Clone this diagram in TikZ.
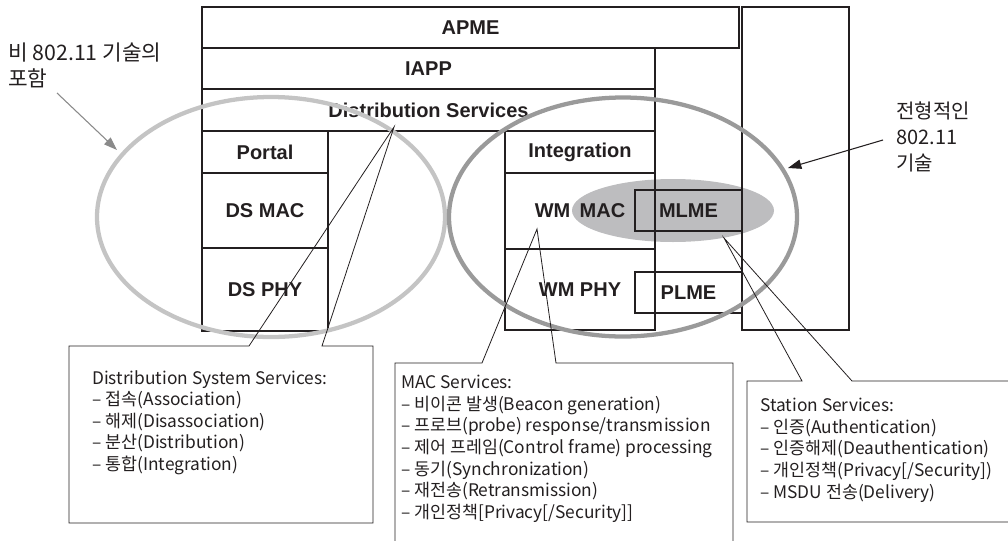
\documentclass[tikz,border=0pt]{standalone}
\usepackage{fontspec}
\setmainfont{Liberation Sans}
\newfontfamily\kr{Noto Sans CJK KR}
\usetikzlibrary{arrows.meta}
\definecolor{lgray}{HTML}{C4C4C4}
\definecolor{dgray}{HTML}{9A9A9A}
\definecolor{fgray}{HTML}{BDBDBF}
\definecolor{agray}{HTML}{8A8A8A}
\definecolor{ink}{HTML}{231F20}
\begin{document}
\begin{tikzpicture}[x=0.75pt,y=-0.75pt,
  blk/.style={draw=ink, line width=0.8pt, inner sep=0pt, text=ink,
    font=\fontsize{15}{18}\selectfont\bfseries},
  ring/.style={line width=3.2pt},
  callout/.style={draw=ink, line width=0.6pt},
  ctext/.style={font=\kr\fontsize{13}{16.2}\selectfont, align=left, anchor=north west, inner sep=0pt, text=ink},
  note/.style={font=\kr\fontsize{16}{19}\selectfont, align=left, anchor=north west, inner sep=0pt, text=ink}]
\useasboundingbox (0,0) rectangle (1008,540);

% grey MLME ellipse
\fill[fgray] (673,210.5) ellipse [x radius=101, y radius=31.5];

% stack boxes
\node[blk, minimum width=402.75pt, minimum height=30.75pt] (apme) at (470.5,27.5) {APME};
\node[blk, minimum width=339.75pt, minimum height=30.75pt] (iapp) at (428.5,68.5) {IAPP};
\node[blk, minimum width=339.75pt, minimum height=31.5pt] (dserv) at (428.5,110) {Distribution Services};
\node[blk, minimum width=94.5pt, minimum height=31.5pt] (portal) at (265,152) {Portal};
\node[blk, minimum width=94.5pt, minimum height=56.25pt] (dsmac) at (265,210.5) {DS MAC};
\node[blk, minimum width=94.5pt, minimum height=62.25pt] (dsphy) at (265,289.5) {DS PHY};
\node[blk, minimum width=112.5pt, minimum height=31.5pt] (integ) at (580,152) {Integration};
\node[blk, minimum width=112.5pt, minimum height=57pt] (wmmac) at (580,211) {WM\hspace{7pt}MAC};
\node[blk, minimum width=112.5pt, minimum height=60.75pt] (wmphy) at (580,289.5) {WM PHY};
\node[blk, minimum width=80.25pt, minimum height=30.75pt] (mlme) at (688.5,210.5) {MLME};
\node[blk, minimum width=80.25pt, minimum height=30.75pt] (plme) at (688.5,292.5) {PLME};
\node[blk, minimum width=80.25pt, minimum height=242.25pt] (tall) at (795.5,168.5) {};

% big rings
\draw[ring, lgray] (271,217) ellipse [x radius=174, y radius=120];
\draw[ring, dgray] (623,217) ellipse [x radius=174, y radius=119.5];

% labels with arrows
\node[note] (nonstd) at (8,43) {비 802.11 기술의\\포함};
\coordinate (ga1) at (57,93);
\coordinate (ga2) at (117,150);
\draw[agray, line width=0.8pt, -{Triangle[length=10pt,width=7pt]}] (ga1) -- (ga2);

\node[note, font=\kr\fontsize{15}{19.5}\selectfont] (typ) at (896,102) {전형적인\\802.11\\기술};
\coordinate (ba1) at (883,140);
\coordinate (ba2) at (788,168);
\draw[ink, line width=0.8pt, -{Triangle[length=10pt,width=7pt]}] (ba1) -- (ba2);

% callout: distribution system services
\coordinate (dsA) at (394,127);
\coordinate (dsL) at (249,346);
\coordinate (dsR) at (322,346);
\draw[callout] (dsR) -- (dsA) -- (dsL) -- (69,346) -- (69,523) -- (373,523) -- (373,346) -- cycle;
\node[ctext] (dstext) at (92,370) {Distribution System Services:\\– 접속(Association)\\– 해제(Disassociation)\\– 분산(Distribution)\\– 통합(Integration)};

% callout: MAC services
\coordinate (macA) at (537,229);
\coordinate (macL) at (482,363);
\coordinate (macR) at (556,363);
\draw[callout] (macR) -- (macA) -- (macL) -- (395,363) -- (395,548) -- (733,548) -- (733,363) -- cycle;
\node[ctext] (mactext) at (401,375) {MAC Services:\\– 비이콘 발생(Beacon generation)\\– 프로브(probe) response/transmission\\– 제어 프레임(Control frame) processing\\– 동기(Synchronization)\\– 재전송(Retransmission)\\– 개인정책[Privacy[/Security]]};

% callout: station services
\coordinate (stA) at (724,238);
\coordinate (stL) at (802,381);
\coordinate (stR) at (852,381);
\draw[callout] (stR) -- (stA) -- (stL) -- (747,381) -- (747,522) -- (1015,522) -- (1015,381) -- cycle;
\node[ctext] (sttext) at (760,398) {Station Services:\\– 인증(Authentication)\\– 인증해제(Deauthentication)\\– 개인정책(Privacy[/Security])\\– MSDU 전송(Delivery)};
\end{tikzpicture}
\end{document}
